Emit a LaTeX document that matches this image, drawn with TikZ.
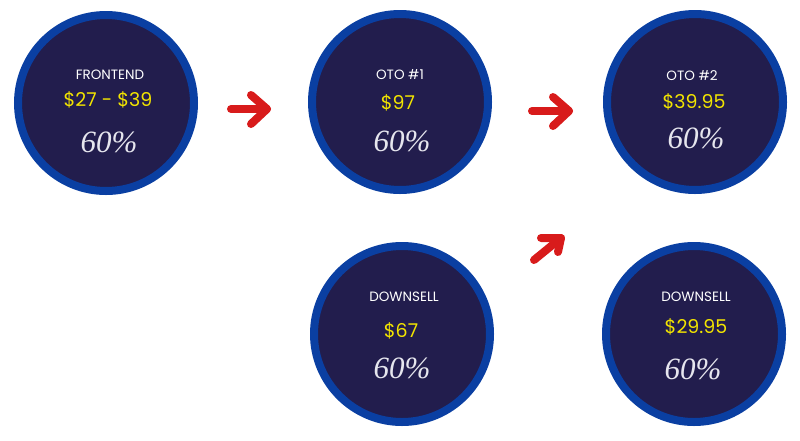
\documentclass[tikz,border=0pt]{standalone}
\usepackage{fontspec}
\newfontfamily\pop{Poppins}
\newfontfamily\pctfont{Liberation Serif}
\definecolor{ringblue}{HTML}{0A3FA2}
\definecolor{navy}{HTML}{221D4D}
\definecolor{priceyellow}{HTML}{F2E400}
\definecolor{pctgray}{HTML}{E6E6EE}
\definecolor{arrowred}{HTML}{D81B1B}
\tikzset{
  offer/.style={circle, draw=ringblue, line width=8pt, fill=navy, minimum size=176pt, inner sep=0pt},
  lbl/.style={font=\pop\fontsize{13.5}{15}\selectfont, text=white, anchor=center},
  price/.style={font=\pop\fontsize{19}{22}\selectfont, text=priceyellow, anchor=center},
  pct/.style={font=\pctfont\itshape\fontsize{31}{35}\selectfont, text=pctgray, anchor=center},
  redarrow/.style={draw=arrowred, line width=8pt, line cap=round, line join=round}
}
\begin{document}
\begin{tikzpicture}[x=1pt,y=-1pt]
\useasboundingbox (0,0) rectangle (800,440);
% circles
\node[offer] (c1) at (106,103) {};
\node[offer] (c2) at (400,102) {};
\node[offer] (c3) at (695,102) {};
\node[offer] (c4) at (402,334) {};
\node[offer] (c5) at (694,334) {};
% texts
\node[lbl] (t1) at (110,75) {FRONTEND};
\node[price] (p1) at (108,100) {\$27 - \$39};
\node[pct] (q1) at (109,142) {60\%};
\node[lbl] (t2) at (400,75) {OTO \#1};
\node[price] (p2) at (398,103) {\$97};
\node[pct] (q2) at (402,141) {60\%};
\node[lbl] (t3) at (692,76) {OTO \#2};
\node[price] (p3) at (694,102) {\$39.95};
\node[pct] (q3) at (696,138) {60\%};
\node[lbl] (t4) at (404,297) {DOWNSELL};
\node[price] (p4) at (401,331) {\$67};
\node[pct] (q4) at (402,368) {60\%};
\node[lbl] (t5) at (696,297) {DOWNSELL};
\node[price] (p5) at (696,327) {\$29.95};
\node[pct] (q5) at (693,369) {60\%};
% arrows
\coordinate (a1s) at (231,109);
\coordinate (a1t) at (267,109);
\coordinate (a1u) at (251,95);
\coordinate (a1d) at (251,124);
\draw[redarrow] (a1s) -- (a1t);
\draw[redarrow] (a1u) -- (a1t) -- (a1d);
\coordinate (a2s) at (532,111);
\coordinate (a2t) at (569,111);
\coordinate (a2u) at (553,97);
\coordinate (a2d) at (553,126);
\draw[redarrow] (a2s) -- (a2t);
\draw[redarrow] (a2u) -- (a2t) -- (a2d);
\coordinate (a3s) at (534,260);
\coordinate (a3t) at (561,238);
\coordinate (a3u) at (541,238);
\coordinate (a3d) at (558,252);
\draw[redarrow] (a3s) -- (a3t);
\draw[redarrow] (a3u) -- (a3t) -- (a3d);
\end{tikzpicture}
\end{document}
